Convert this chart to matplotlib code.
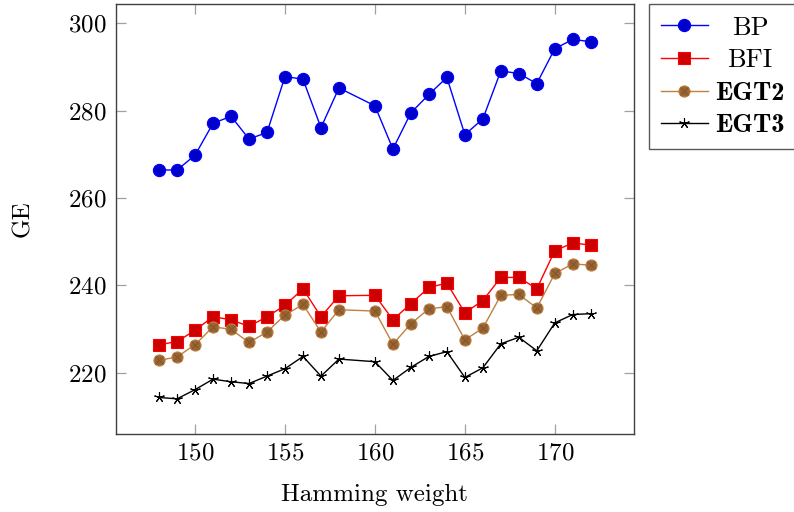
import matplotlib
matplotlib.use('Agg')
import matplotlib.pyplot as plt

# data
hw = [148, 149, 150, 151, 152, 153, 154, 155, 156, 157, 158,
      160, 161, 162, 163, 164, 165, 166, 167, 168, 169, 170, 171, 172]
bp = [266.4, 266.4, 269.8, 277.1, 278.7, 273.5, 275.0, 287.8, 287.2, 276.1, 285.2,
      281.1, 271.2, 279.5, 283.7, 287.6, 274.5, 278.1, 289.1, 288.5, 286.2, 294.2, 296.3, 295.8]
bfi = [226.4, 227.1, 229.7, 232.8, 232.1, 230.6, 232.8, 235.4, 239.2, 232.8, 237.6,
       237.7, 232.1, 235.8, 239.5, 240.5, 233.7, 236.5, 241.8, 241.8, 239.2, 247.9, 249.7, 249.2]
egt2 = [222.8, 223.6, 226.4, 230.5, 229.9, 226.9, 229.3, 233.2, 235.6, 229.3, 234.4,
        234.1, 226.5, 231.2, 234.6, 235.1, 227.5, 230.2, 237.7, 237.9, 234.8, 242.7, 244.9, 244.6]
egt3 = [214.3, 214.0, 216.1, 218.5, 217.9, 217.5, 219.2, 220.9, 223.7, 219.2, 223.1,
        222.5, 218.2, 221.2, 223.7, 224.8, 218.9, 221.1, 226.6, 228.1, 225.0, 231.4, 233.3, 233.5]
names = ['BP', 'BFI', 'EGT2', 'EGT3']

plt.rcParams['font.family'] = 'cmr10'
plt.rcParams['mathtext.fontset'] = 'cm'
plt.rcParams['axes.formatter.use_mathtext'] = True
plt.rcParams['font.size'] = 18

fig = plt.figure(figsize=(7.94, 5.12), dpi=100)
ax = fig.add_axes([0.146, 0.152, 0.6524, 0.840])

brown = (0.75, 0.5, 0.25)
brown_fill = (0.6, 0.4, 0.2)

l1, = ax.plot(hw, bp, color='blue', lw=1.0, marker='o', ms=8.8,
              mfc=(0, 0, 0.8), mec='blue', mew=0.8)
l2, = ax.plot(hw, bfi, color='red', lw=1.0, marker='s', ms=8.2,
              mfc=(0.8, 0, 0), mec='red', mew=0.8)
l3, = ax.plot(hw, egt2, color=brown, lw=1.0, marker='o', ms=8.0,
              mfc=brown_fill, mec=brown, mew=0.8)
l3x, = ax.plot(hw, egt2, ls='none', marker='x', ms=5.5, mec=(0.5, 0.33, 0.17), mew=0.7)
l4, = ax.plot(hw, egt3, color='black', lw=1.0, marker=(5, 2, 0), ms=7.5, mew=0.8)

ax.set_xlim(145.6, 174.4)
ax.set_ylim(205.9, 304.4)
ax.set_xticks([150, 155, 160, 165, 170])
ax.set_yticks([220, 240, 260, 280, 300])

ax.tick_params(direction='in', length=7.2, width=0.9, color='#a0a0a0',
               top=True, right=True, labelsize=18)
ax.tick_params(axis='y', pad=7)
ax.tick_params(axis='x', pad=6)
for s in ax.spines.values():
    s.set_color('#404040')
    s.set_linewidth(1.0)

ax.set_xlabel('Hamming weight', fontsize=18, labelpad=14)
ax.set_ylabel('GE', fontsize=18, labelpad=24)

leg = ax.legend([l1, l2, (l3, l3x), l4], names,
                loc='upper left', bbox_to_anchor=(1.03, 1.0), fontsize=19,
                frameon=True, fancybox=False, edgecolor='#303030',
                handlelength=1.75, handletextpad=0.3, labelspacing=0.34,
                borderpad=0.45, borderaxespad=0.0)
leg.get_frame().set_linewidth(1.0)
for t in leg.get_texts()[2:]:
    t.set_fontfamily('cmb10')

# centre the legend entries in their column, like pgfplots does
fig.canvas.draw()
r = fig.canvas.get_renderer()
widths = [t.get_window_extent(r).width for t in leg.get_texts()]
wmax = max(widths)
for t, w in zip(leg.get_texts(), widths):
    t.set_x((wmax - w) / 2)

fig.savefig('out.png', dpi=100)
